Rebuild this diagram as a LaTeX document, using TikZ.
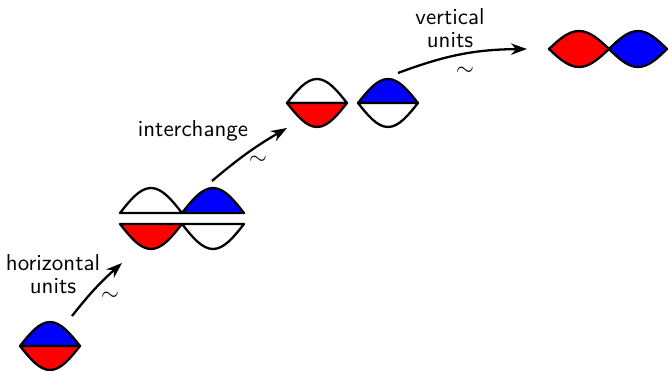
\documentclass[tikz,border=0pt]{standalone}
\usetikzlibrary{arrows.meta}

\tikzset{
  half/.style={line width=1pt, line join=round},
  arr/.style={line width=1pt, -{Stealth[length=7pt, width=5pt]}},
  lbl/.style={font=\sffamily, align=center},
}

% upper and lower halves of a lens, centre (#1,#2), half width #3, height #4, fill #5
\newcommand{\upperhalf}[5]{%
  \filldraw[half, fill=#5] (#1-#3,#2) sin (#1,#2-#4) cos (#1+#3,#2) -- cycle;}
\newcommand{\lowerhalf}[5]{%
  \filldraw[half, fill=#5] (#1-#3,#2) sin (#1,#2+#4) cos (#1+#3,#2) -- cycle;}

\begin{document}
\begin{tikzpicture}[x=0.436pt, y=-0.436pt]
  \useasboundingbox (0,0) rectangle (669,371);

  % single lens
  \upperhalf{50}{346}{30}{24}{blue}
  \lowerhalf{50}{346}{30}{24}{red}

  % horizontal units
  \upperhalf{151}{213}{31}{25}{white}
  \upperhalf{213}{213}{31}{25}{blue}
  \lowerhalf{151}{224}{31}{25}{red}
  \lowerhalf{213}{224}{31}{25}{white}

  % interchange
  \upperhalf{317}{103}{30}{24}{white}
  \lowerhalf{317}{103}{30}{24}{red}
  \upperhalf{388}{103}{30}{24}{blue}
  \lowerhalf{388}{103}{30}{24}{white}

  % vertical units
  \fill[red] (549,49) sin (579,31) cos (609,49) sin (579,67) cos (549,49) -- cycle;
  \fill[blue] (609,49) sin (638,31) cos (667,49) sin (638,67) cos (609,49) -- cycle;
  \draw[half] (549,49) sin (579,31) cos (609,49) sin (638,31) cos (667,49)
              sin (638,67) cos (609,49) sin (579,67) cos (549,49) -- cycle;

  % arrows
  \coordinate (a0) at (72,316);
  \coordinate (a1) at (122,263);
  \coordinate (b0) at (212,181);
  \coordinate (b1) at (287,128);
  \coordinate (c0) at (398,73);
  \coordinate (c1) at (527,49);
  \draw[arr] (a0) to[bend left=5] (a1);
  \draw[arr] (b0) to[bend left=5] (b1);
  \draw[arr] (c0) to[bend left=10] (c1);

  \node[lbl] (hlbl) at (53,274) {horizontal\\[-2pt]units};
  \node[lbl] (ilbl) at (193,131) {interchange};
  \node[lbl] (vlbl) at (450,28) {vertical\\[-2pt]units};

  \node (t1) at (110,296) {$\sim$};
  \node (t2) at (258,160) {$\sim$};
  \node (t3) at (465,71) {$\sim$};
\end{tikzpicture}
\end{document}
